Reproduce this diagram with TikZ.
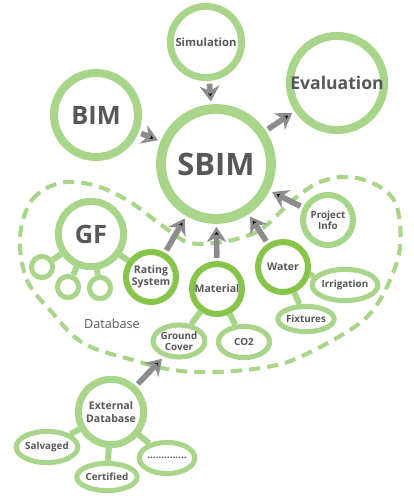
\documentclass[tikz,border=0pt]{standalone}
\usepackage{fontspec}
\setmainfont{Open Sans}
\usepackage{tikz}
\usetikzlibrary{shapes,arrows.meta,calc,positioning}

\definecolor{lgreen}{HTML}{A9D58B}
\definecolor{dgreen}{HTML}{86C44A}
\definecolor{txtgray}{HTML}{575757}
\definecolor{arrgray}{HTML}{8C8C8C}

\tikzset{
  ring/.style={circle, draw=lgreen, fill=white, line width=5pt, inner sep=0pt,
    text=txtgray, font=\bfseries, align=center},
  keyring/.style={ring, draw=dgreen, line width=4.3pt, minimum size=1.25cm,
    font=\bfseries\fontsize{7.5}{8.5}\selectfont},
  dot/.style={ring, line width=3.6pt, minimum size=0.53cm},
  leaf/.style={ellipse, draw=lgreen, fill=white, line width=3.6pt, inner sep=0pt,
    minimum width=1.28cm, minimum height=0.78cm, text=txtgray, align=center,
    font=\bfseries\fontsize{7}{8}\selectfont},
  link/.style={draw=lgreen, line width=4.3pt},
  arr/.style={draw=arrgray, line width=4pt,
    -{Stealth[length=11pt, width=14pt, inset=3.5pt]}, shorten >=2pt, shorten <=2pt}
}

\begin{document}
\begin{tikzpicture}[x=0.025cm, y=-0.025cm]
  \useasboundingbox (0,0) rectangle (414,500);

  % dashed database boundary
  \draw[lgreen, line width=2.9pt, dash pattern=on 8pt off 5pt]
    plot[smooth cycle, tension=0.6] coordinates {
      (20,237) (32,200) (60,183) (93,185) (127,200) (160,224) (187,242)
      (213,243) (240,238) (263,228) (293,200) (320,182) (350,177) (380,187)
      (397,207) (400,247) (390,280) (373,310) (350,330) (300,357) (267,367)
      (217,372) (173,370) (133,360) (83,343) (50,310) (27,280)};

  \node[ring, line width=7pt, minimum size=2.75cm,
        font=\bfseries\fontsize{22}{24}\selectfont] (sbim) at (216,164) {SBIM};
  \node[ring, minimum size=1.78cm, font=\bfseries\fontsize{8}{9}\selectfont]
        (sim) at (206,42) {Simulation};
  \node[ring, line width=5.7pt, minimum size=2.05cm,
        font=\bfseries\fontsize{12.5}{14}\selectfont] (eval) at (337,83) {Evaluation};
  \node[ring, line width=5.7pt, minimum size=2.1cm,
        font=\bfseries\fontsize{18}{20}\selectfont] (bim) at (96,115) {BIM};
  \node[ring, minimum size=1.25cm, line width=4.3pt,
        font=\bfseries\fontsize{7}{8}\selectfont] (proj) at (328,220) {Project\\Info};
  \node[ring, minimum size=1.63cm,
        font=\bfseries\fontsize{18}{20}\selectfont] (gf) at (91,234) {GF};

  % GF sub items
  \node[dot] (gf_1) at (42,267) {};
  \node[dot] (gf_2) at (68,287) {};
  \node[dot] (gf_3) at (100,288) {};

  \node[keyring] (rate) at (151,277) {Rating\\System};
  \node[keyring] (mat)  at (217,289) {Material};
  \node[keyring] (wat)  at (283,267) {Water};

  \node[leaf] (irr) at (345,285) {Irrigation};
  \node[leaf, minimum height=0.63cm] (fix) at (306,319) {Fixtures};
  \node[leaf, minimum height=0.8cm] (gc) at (179,341) {Ground\\Cover};
  \node[leaf] (co2) at (244,342) {CO2};

  \node[text=txtgray, font=\fontsize{9}{10}\selectfont] (db) at (112,324) {Database};

  \node[ring, minimum size=1.63cm, font=\bfseries\fontsize{7.5}{9}\selectfont]
        (ext) at (111,412) {External\\Database};
  \node[leaf] (salv) at (47,447) {Salvaged};
  \node[leaf, minimum height=0.68cm] (cert) at (107,477) {Certified};
  \node[leaf] (more) at (167,458) {..............};

  % green links
  \path[link]
    (gf) edge (gf_1)
    (gf) edge (gf_2)
    (gf) edge (gf_3)
    (gf) edge (rate)
    (mat) edge (gc)
    (mat) edge (co2)
    (wat) edge (irr)
    (wat) edge (fix)
    (ext) edge (salv)
    (ext) edge (cert)
    (ext) edge (more);

  % arrows
  \path[arr]
    (sim) edge (sbim)
    (bim) edge (sbim)
    (sbim) edge (eval)
    (proj) edge (sbim)
    (rate) edge (sbim)
    (mat) edge (sbim)
    (wat) edge (sbim)
    (ext) edge (gc);
\end{tikzpicture}
\end{document}
